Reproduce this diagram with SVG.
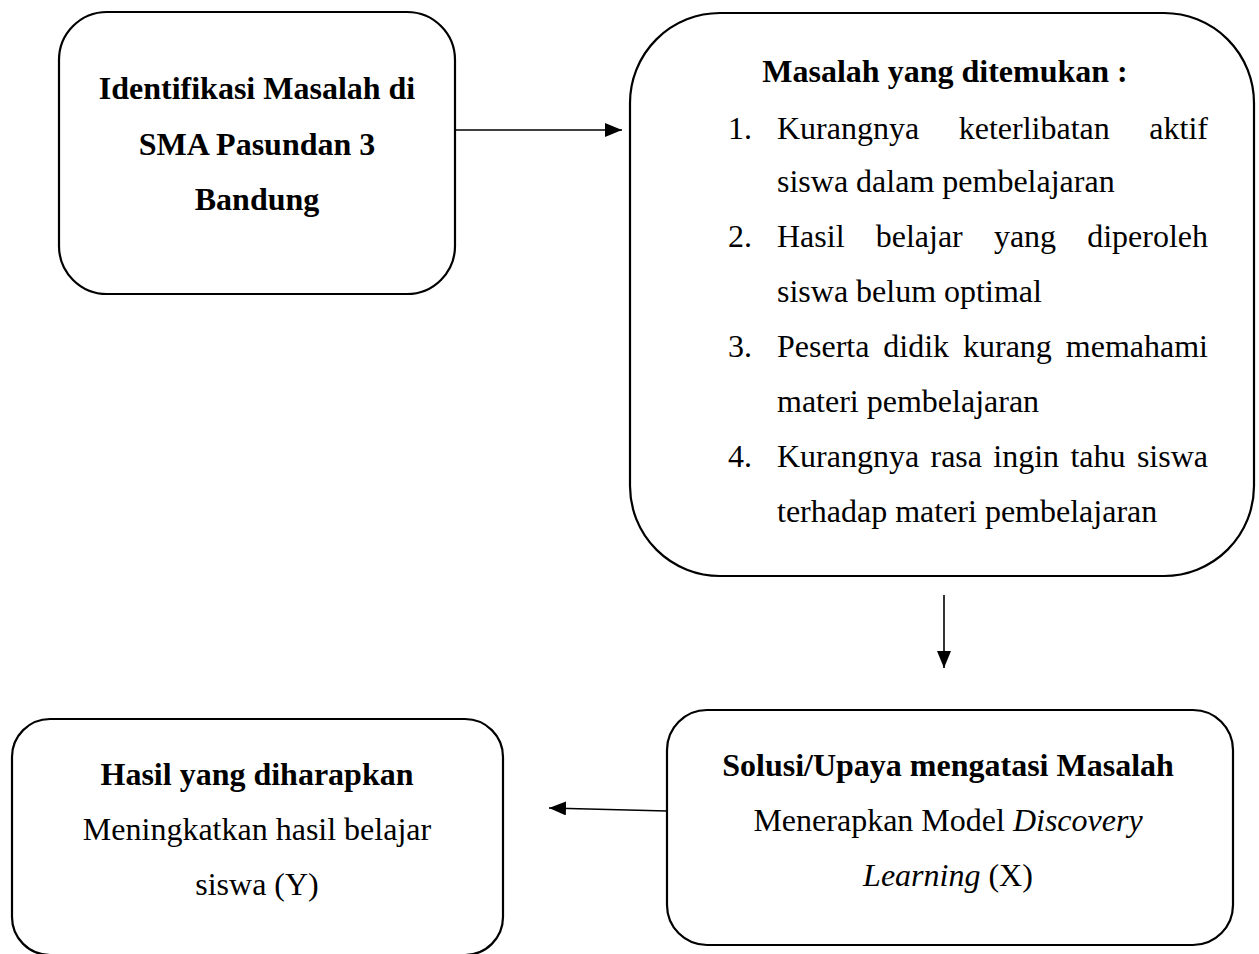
<svg xmlns="http://www.w3.org/2000/svg" width="1259" height="954" viewBox="0 0 1259 954">
<style>
.box{fill:#fff;stroke:#000;stroke-width:2.2}
.t{font-family:"Liberation Serif","Times New Roman",serif;font-size:32px;fill:#000}
.b{font-weight:bold}
.c{text-anchor:middle}
.i{font-style:italic}
.conn{stroke:#000;stroke-width:1.6;fill:none}
</style>
<defs>
<marker id="ah" markerUnits="userSpaceOnUse" markerWidth="18" markerHeight="14" refX="17" refY="7" orient="auto">
<path d="M0,0 L17,7 L0,14 Z" fill="#000"/>
</marker>
</defs>
<rect width="1259" height="954" fill="#fff"/>
<g id="connectors">
<line class="conn" x1="455" y1="130" x2="622" y2="130" marker-end="url(#ah)"/>
<line class="conn" x1="944" y1="595" x2="944" y2="668" marker-end="url(#ah)"/>
<line class="conn" x1="667" y1="811" x2="549" y2="808" marker-end="url(#ah)"/>
</g>
<g id="node-identifikasi">
<rect class="box" x="59" y="12" width="396" height="282" rx="48" ry="48"/>
<text class="t b c" x="257" y="99">Identifikasi Masalah di</text>
<text class="t b c" x="257" y="155">SMA Pasundan 3</text>
<text class="t b c" x="257" y="210">Bandung</text>
</g>
<g id="node-masalah">
<rect class="box" x="630" y="13" width="624" height="563" rx="90" ry="90"/>
<text class="t b c" x="945" y="82">Masalah yang ditemukan :</text>
<text class="t" x="728" y="139">1.</text>
<text class="t" x="777" y="139">Kurangnya</text>
<text class="t" x="958.7" y="139">keterlibatan</text>
<text class="t" x="1208" y="139" text-anchor="end">aktif</text>
<text class="t" x="777" y="192">siswa dalam pembelajaran</text>
<text class="t" x="728" y="247">2.</text>
<text class="t" x="777" y="247">Hasil</text>
<text class="t" x="875.7" y="247">belajar</text>
<text class="t" x="993.9" y="247">yang</text>
<text class="t" x="1208" y="247" text-anchor="end">diperoleh</text>
<text class="t" x="777" y="302">siswa belum optimal</text>
<text class="t" x="728" y="357">3.</text>
<text class="t" x="777" y="357">Peserta</text>
<text class="t" x="883.3" y="357">didik</text>
<text class="t" x="963" y="357">kurang</text>
<text class="t" x="1208" y="357" text-anchor="end">memahami</text>
<text class="t" x="777" y="412">materi pembelajaran</text>
<text class="t" x="728" y="467">4.</text>
<text class="t" x="777" y="467">Kurangnya</text>
<text class="t" x="930.5" y="467">rasa</text>
<text class="t" x="993.3" y="467">ingin</text>
<text class="t" x="1070.4" y="467">tahu</text>
<text class="t" x="1208" y="467" text-anchor="end">siswa</text>
<text class="t" x="777" y="522">terhadap materi pembelajaran</text>
</g>
<g id="node-solusi">
<rect class="box" x="667" y="710" width="566" height="235" rx="40" ry="40"/>
<text class="t b c" x="948" y="776">Solusi/Upaya mengatasi Masalah</text>
<text class="t c" x="948" y="831">Menerapkan Model <tspan class="i">Discovery</tspan></text>
<text class="t c" x="948" y="886"><tspan class="i">Learning</tspan> (X)</text>
</g>
<g id="node-hasil">
<rect class="box" x="12" y="719" width="491" height="236" rx="38" ry="38"/>
<text class="t b c" x="257" y="785">Hasil yang diharapkan</text>
<text class="t c" x="257" y="840">Meningkatkan hasil belajar</text>
<text class="t c" x="257" y="895">siswa (Y)</text>
</g>
</svg>
